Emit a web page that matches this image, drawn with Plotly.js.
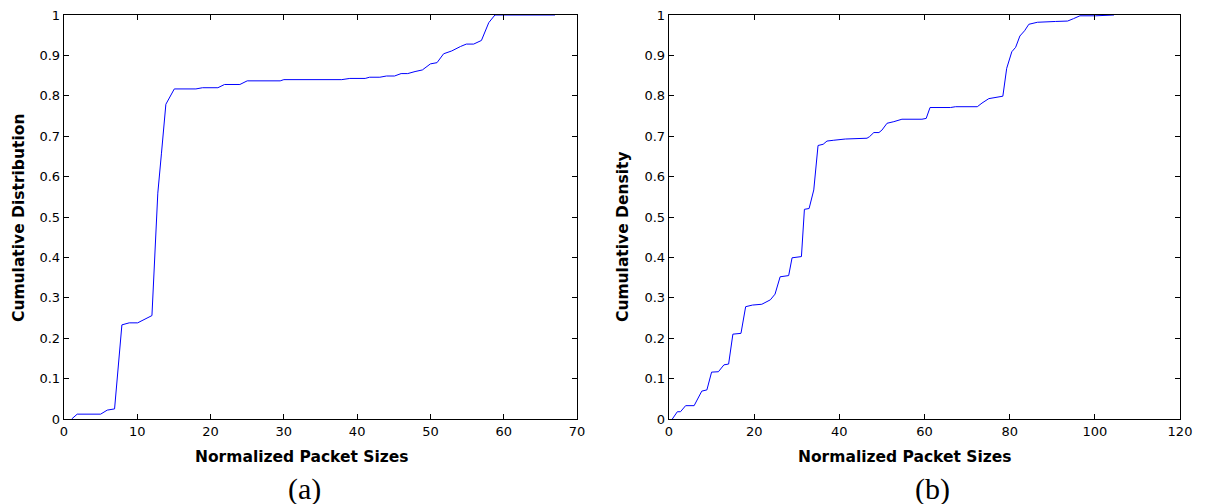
<!DOCTYPE html>
<html>
<head>
<meta charset="utf-8">
<script src="https://cdn.plot.ly/plotly-3.0.1.min.js"></script>
<style>html,body{margin:0;padding:0;background:#fff;}#chart{width:1206px;height:504px;}</style>
</head>
<body>
<div id="chart"></div>
<script>
// (a) Cumulative Distribution
const xA = [1.05,1.8,5,5.9,6.9,7.9,8.9,10.05,12,12.8,13.3,13.9,15.05,18,18.9,21,21.9,24,25,29.5,30,34.9,37.9,39,41.1,41.7,43.1,44,45.1,46,46.9,47.9,48.9,50,50.9,51.8,52.9,54.1,54.9,55.9,56.96,57.96,58.8,67];
const yA = [0,0.012,0.012,0.022,0.025,0.233,0.238,0.238,0.256,0.559,0.658,0.779,0.817,0.817,0.82,0.82,0.828,0.828,0.837,0.837,0.84,0.84,0.84,0.843,0.843,0.846,0.846,0.849,0.849,0.855,0.855,0.86,0.864,0.879,0.882,0.904,0.911,0.922,0.928,0.928,0.937,0.981,1.0,1.0];
// (b) Cumulative Density
const xB = [0.78,1.96,2.7,3.9,5.9,7.7,8.9,10,11.6,12.9,14,15,16.9,18,19.6,21.8,23.8,24.9,26.1,28.1,28.9,31.1,31.8,32.9,34,35,36.2,37.1,38.7,41.4,46.5,47.1,48.1,49.3,50,51.2,52.8,54.7,59.4,60.4,61.3,66.1,67.3,72.4,73.5,75.1,78.4,79.3,80.5,81.4,82.4,83.5,84.5,86.5,90.8,91.8,93.6,95,96.5,100.2,104.5];
const yB = [0,0.018,0.018,0.033,0.033,0.069,0.072,0.116,0.117,0.134,0.136,0.21,0.212,0.278,0.282,0.284,0.295,0.309,0.352,0.355,0.399,0.402,0.519,0.521,0.567,0.677,0.68,0.688,0.69,0.693,0.695,0.699,0.709,0.709,0.715,0.732,0.736,0.742,0.742,0.744,0.771,0.771,0.773,0.773,0.782,0.793,0.799,0.868,0.909,0.92,0.948,0.961,0.977,0.982,0.984,0.985,0.985,0.991,0.998,0.998,1.0];

const xTitle = 'Normalized Packet Sizes';
const yTitleA = 'Cumulative Distribution';
const yTitleB = 'Cumulative Density';
const captions = ['(a)', '(b)'];

const W = 1206, H = 504;
const tickFont = {family: 'DejaVu Sans, Arial, sans-serif', size: 13, color: '#000'};
const titleFont = {family: 'DejaVu Sans, Arial, sans-serif', size: 15.5, color: '#000', weight: 'bold'};
const capFont = {family: 'Liberation Serif, Times New Roman, serif', size: 30, color: '#000'};

function ax(extra) {
  return Object.assign({
    showline: true, linecolor: '#000', linewidth: 1.3, mirror: 'allticks',
    ticks: 'inside', ticklen: 5, tickwidth: 1, tickcolor: '#000',
    showgrid: false, zeroline: false, automargin: false,
    tickfont: tickFont
  }, extra);
}
function txt(text, px, py, font, angle) {
  return {text: text, xref: 'paper', yref: 'paper', x: px / W, y: 1 - py / H,
    xanchor: 'center', yanchor: 'middle', showarrow: false, font: font, textangle: angle || 0};
}

const data = [
  {x: xA, y: yA, type: 'scatter', mode: 'lines', line: {color: '#0000ff', width: 1}, xaxis: 'x', yaxis: 'y', hoverinfo: 'skip'},
  {x: xB, y: yB, type: 'scatter', mode: 'lines', line: {color: '#0000ff', width: 1}, xaxis: 'x2', yaxis: 'y2', hoverinfo: 'skip'}
];

const yDom = [1 - 419/H, 1 - 15/H];
const layout = {
  width: W, height: H,
  margin: {l: 0, r: 0, t: 0, b: 0},
  paper_bgcolor: '#fff', plot_bgcolor: '#fff',
  showlegend: false,
  xaxis: ax({domain: [64/W, 577/W], range: [0, 70], dtick: 10, tick0: 0, anchor: 'y'}),
  yaxis: ax({domain: yDom, range: [0, 1], dtick: 0.1, tick0: 0, anchor: 'x'}),
  xaxis2: ax({domain: [669/W, 1180/W], range: [0, 120], dtick: 20, tick0: 0, anchor: 'y2'}),
  yaxis2: ax({domain: yDom, range: [0, 1], dtick: 0.1, tick0: 0, anchor: 'x2'}),
  annotations: [
    txt(xTitle, 302, 457, titleFont),
    txt(xTitle, 905, 457, titleFont),
    txt(yTitleA, 19, 218, titleFont, -90),
    txt(yTitleB, 623, 237, titleFont, -90),
    txt(captions[0], 304, 489, capFont),
    txt(captions[1], 932, 489, capFont)
  ]
};

Plotly.newPlot('chart', data, layout, {staticPlot: true, displayModeBar: false});
</script>
</body>
</html>
